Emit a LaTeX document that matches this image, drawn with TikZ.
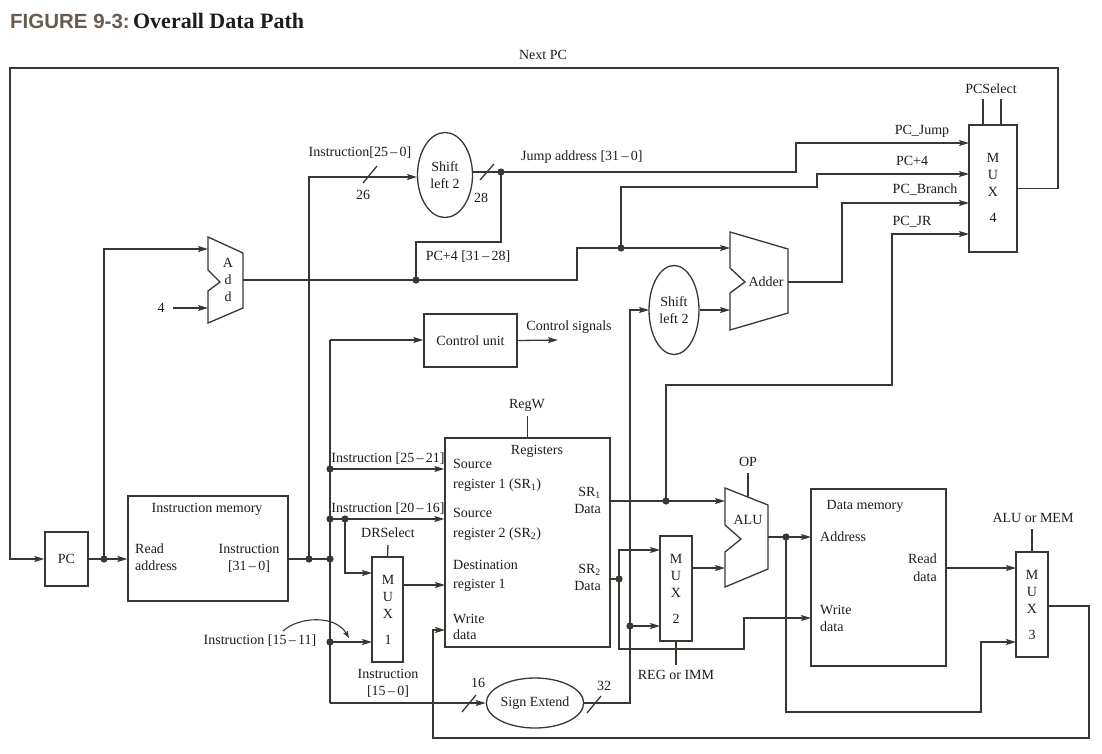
\documentclass[tikz,border=0pt]{standalone}
\usepackage{fontspec}
\setmainfont{Liberation Serif}
\newfontfamily\figsans{Liberation Sans}
\usetikzlibrary{arrows.meta,shapes.geometric}
\definecolor{ln}{RGB}{58,54,50}
\definecolor{tx}{RGB}{30,28,30}
\definecolor{figc}{RGB}{105,92,78}
\newcommand\lbfont{\fontsize{14}{17}\selectfont}
\begin{document}
\begin{tikzpicture}[x=1pt,y=-1pt,
  wire/.style={draw=ln,line width=1.3pt},
  arr/.style={wire,-{Stealth[length=10pt,width=6pt,inset=2pt]}},
  arrsm/.style={wire,line width=1.1pt,-{Stealth[length=7pt,width=5pt,inset=1.5pt]}},
  box/.style={draw=ln,line width=1.3pt,rectangle,inner sep=0pt,text=tx,font=\lbfont},
  oval/.style={draw=ln,line width=1.3pt,ellipse,inner sep=0pt,text=tx,font=\lbfont,align=center},
  lbl/.style={text=tx,font=\lbfont,inner sep=0pt},
  muxtxt/.style={lbl,align=center},
  blk/.style={draw=ln,line width=1.3pt,line join=miter},
]
\fill[white] (0,0) rectangle (1102,753);
\useasboundingbox (0,0) rectangle (1102,753);

% title
\node[anchor=base west,inner sep=0pt] (title) at (10,28)
  {{\figsans\bfseries\fontsize{20.5}{22}\selectfont\color{figc}FIGURE 9-3:} {\bfseries\fontsize{22}{24}\selectfont\color{tx}Overall Data Path}};

% ---------- boxes ----------
\node[box,minimum width=43,minimum height=54] (pc) at (66.5,559) {PC};
\node[box,minimum width=160,minimum height=105] (imem) at (208,548.5) {};
\node[box,minimum width=93,minimum height=53] (cu) at (470.5,340.5) {Control unit};
\node[box,minimum width=165,minimum height=209] (reg) at (527.5,542.5) {};
\node[box,minimum width=31,minimum height=105] (mux1) at (387.5,609.5) {};
\node[box,minimum width=32,minimum height=105] (mux2) at (676,588.5) {};
\node[box,minimum width=32,minimum height=105] (mux3) at (1032,604.5) {};
\node[box,minimum width=48,minimum height=127] (mux4) at (993,188.5) {};
\node[box,minimum width=135,minimum height=177] (dmem) at (878.5,577.5) {};
\node[oval,minimum width=55,minimum height=85] (shift1) at (445,175) {Shift\\left 2};
\node[oval,minimum width=50,minimum height=89] (shift2) at (674,310) {Shift\\left 2};
\node[oval,minimum width=84,minimum height=50] (se) at (535,703) {Sign Extend};

% mux texts
\node[muxtxt] (m1t) at (388,610) {M\\U\\X\\[9pt]1};
\node[muxtxt] (m2t) at (676,589) {M\\U\\X\\[9pt]2};
\node[muxtxt] (m3t) at (1032,605) {M\\U\\X\\[9pt]3};
\node[muxtxt] (m4t) at (993,188) {M\\U\\X\\[9pt]4};

% ALU-type shapes
\draw[blk] (208,237) -- (243,253) -- (243,308) -- (208,323) -- (208,291) -- (220,282) -- (208,270) -- cycle;
\node[muxtxt] (addt) at (228,280) {A\\d\\d};
\draw[blk] (730,232) -- (788,249) -- (788,313) -- (730,330) -- (730,293) -- (745,282) -- (730,268) -- cycle;
\node[lbl] (addert) at (766,282) {Adder};
\draw[blk] (725,488) -- (768,505) -- (768,569) -- (725,587) -- (725,552) -- (741,539) -- (725,525) -- cycle;
\node[lbl] (alut) at (748,520) {ALU};

% ---------- coordinates ----------
\coordinate (pcdot) at (104,559);
\coordinate (idotA) at (309,559);
\coordinate (idotB) at (330,559);
\coordinate (cuin) at (330,340);
\coordinate (d2521) at (330,469);
\coordinate (d2016) at (330,519);
\coordinate (d2016b) at (345,519);
\coordinate (d1511) at (330,642);
\coordinate (sebot) at (330,703);
\coordinate (adddot) at (416,280);
\coordinate (jdot) at (501,172);
\coordinate (p4dot) at (621,248);
\coordinate (sr1dot) at (666,501);
\coordinate (sr2dot) at (619,579);
\coordinate (sedot) at (630,626);
\coordinate (aludot) at (786,537);

\coordinate (addA) at (208,249);
\coordinate (addB) at (208,308);
\coordinate (addO) at (243,280);
\coordinate (adderA) at (730,248);
\coordinate (adderB) at (730,310);
\coordinate (adderO) at (788,282);
\coordinate (aluA) at (725,501);
\coordinate (aluB) at (725,568);
\coordinate (aluO) at (768,537);
\coordinate (aluOP) at (748,497);
\coordinate (s1in) at (417,177);
\coordinate (s2in) at (649,310);
\coordinate (m4a) at (969,143);
\coordinate (m4b) at (969,174);
\coordinate (m4c) at (969,203);
\coordinate (m4d) at (969,234);
\coordinate (m1a) at (372,573);
\coordinate (m1b) at (372,642);
\coordinate (m1o) at (403,585);
\coordinate (m2a) at (660,550);
\coordinate (m2b) at (660,626);
\coordinate (m2o) at (692,568);
\coordinate (m3a) at (1016,568);
\coordinate (m3b) at (1016,642);
\coordinate (m3o) at (1048,606);
\coordinate (regdr) at (445,585);
\coordinate (regwd) at (445,630);
\coordinate (sr1o) at (610,501);
\coordinate (sr2o) at (610,579);
\coordinate (dmA) at (811,537);
\coordinate (dmW) at (811,618);
\coordinate (dmR) at (946,568);
\coordinate (cuout) at (558,340);
\coordinate (fourend) at (173,308);
\coordinate (cvs) at (283,631);
\coordinate (cve) at (349,638);

% ---------- wires ----------
\draw[arr] (mux4.east) -| (1058,68) -| (10,559) -- (pc.west);
\draw[wire] (pc.east) -- (pcdot);
\draw[arr] (pcdot) -- (imem.west |- pcdot);
\draw[arr] (pcdot) |- (addA);
\draw[arr] (fourend) -- (addB);
\draw[arr] (addO) -- (577,280) -- (577,248) -- (adderA);
\draw[wire] (adddot) -- (416,242) -- (501,242) -- (jdot);
\draw[arr] (idotA) |- (s1in);
\draw[arr] (shift1.east |- jdot) -- (jdot) -- (796,172) -- (796,143) -- (m4a);
\draw[arr] (p4dot) -- (621,187) -- (817,187) -- (817,174) -- (m4b);
\draw[arr] (adderO) -- (842,282) -- (842,203) -- (m4c);
\draw[arr] (sr1dot) -- (666,385) -- (892,385) -- (892,234) -- (m4d);
\draw[wire] (983,125) -- (983,99);
\draw[wire] (1001,125) -- (1001,99);

\draw[wire] (imem.east |- idotA) -- (idotB);
\draw[wire] (cuin) -- (sebot);
\draw[arr] (cuin) -- (cu.west |- cuin);
\draw[arr] (cu.east) -- (cuout);
\draw[arr] (sebot) -- (se.west);
\draw[arr] (d2521) -- (reg.west |- d2521);
\draw[arr] (d2016) -- (reg.west |- d2016);
\draw[arr] (d2016b) |- (m1a);
\draw[arr] (m1o) -- (regdr);
\draw[arr] (d1511) -- (m1b);
\draw[arrsm] (cvs) .. controls (298,617) and (335,614) .. (cve);
\draw[wire] (mux1.north) -- (388,545);
\draw[wire] (reg.north) -- (527.5,416);

\draw[arr] (se.east) -| (sedot) |- (s2in);
\draw[arr] (sedot) -- (m2b);
\draw[arr] (shift2.east) -- (adderB);
\draw[arr] (sr1o) -- (aluA);
\draw[wire] (sr2o) -- (sr2dot);
\draw[arr] (sr2dot) |- (m2a);
\draw[arr] (sr2dot) -- (619,649) -- (744,649) -- (744,618) -- (dmW);
\draw[arr] (m2o) -- (aluB);
\draw[wire] (mux2.south) -- (676,665);
\draw[wire] (aluOP) -- (748,473);
\draw[arr] (aluO) -- (dmA);
\draw[arr] (aludot) -- (786,712) -- (981,712) -- (981,642) -- (m3b);
\draw[arr] (dmR) -- (m3a);
\draw[wire] (mux3.north) -- (1032,529);
\draw[arr] (m3o) -- (1089,606) -- (1089,738) -- (433,738) -- (433,630) -- (regwd);

% bus slashes
\draw[wire] (363,183) -- (377,166);
\draw[wire] (480,180) -- (494,164);
\draw[wire] (462,712) -- (476,695);
\draw[wire] (587,713) -- (601,696);

% dots
\foreach \p in {pcdot,idotA,idotB,d2521,d2016,d2016b,d1511,adddot,jdot,p4dot,sr1dot,sr2dot,sedot,aludot}
  \fill[ln] (\p) circle (3.6);

% ---------- labels ----------
\node[lbl] (lnextpc) at (543,55) {Next PC};
\node[lbl] (lpcsel) at (991,89) {PCSelect};
\node[lbl] (lpcj) at (922,131) {PC\_Jump};
\node[lbl] (lpc4) at (912,161) {PC+4};
\node[lbl] (lpcb) at (925,190) {PC\_Branch};
\node[lbl] (lpcjr) at (912,222) {PC\_JR};
\node[lbl] (li250) at (360,153) {Instruction[25\,–\,0]};
\node[lbl] (l26) at (363,195) {26};
\node[lbl] (l28) at (481,198) {28};
\node[lbl,anchor=west] (ljump) at (521,157) {Jump address [31\,–\,0]};
\node[lbl] (lpc428) at (468,257) {PC+4 [31\,–\,28]};
\node[lbl] (lfour) at (161,308) {4};
\node[lbl] (lcs) at (569,327) {Control signals};
\node[lbl] (lregw) at (527,405) {RegW};
\node[lbl] (lregs) at (537,451) {Registers};
\node[lbl] (li2521) at (388,459) {Instruction [25\,–\,21]};
\node[lbl] (li2016) at (388,509) {Instruction [20\,–\,16]};
\node[lbl] (ldrs) at (388,533) {DRSelect};
\node[lbl,anchor=west] (lsr1a) at (453,464) {Source};
\node[lbl,anchor=west] (lsr1b) at (453,485) {register 1 (SR\textsubscript{1})};
\node[lbl,anchor=west] (lsr2a) at (453,513) {Source};
\node[lbl,anchor=west] (lsr2b) at (453,534) {register 2 (SR\textsubscript{2})};
\node[lbl,anchor=west] (ldra) at (453,565) {Destination};
\node[lbl,anchor=west] (ldrb) at (453,585) {register 1};
\node[lbl,anchor=west] (lwda) at (453,619) {Write};
\node[lbl,anchor=west] (lwdb) at (453,635) {data};
\node[lbl,anchor=east] (lsr1da) at (601,493) {SR\textsubscript{1}};
\node[lbl,anchor=east] (lsr1db) at (601,509) {Data};
\node[lbl,anchor=east] (lsr2da) at (601,570) {SR\textsubscript{2}};
\node[lbl,anchor=east] (lsr2db) at (601,586) {Data};
\node[lbl] (li1511) at (260,641) {Instruction [15\,–\,11]};
\node[lbl] (li150a) at (388,674) {Instruction};
\node[lbl] (li150b) at (388,692) {[15\,–\,0]};
\node[lbl] (l16) at (478,683) {16};
\node[lbl] (l32) at (604,686) {32};
\node[lbl] (lop) at (748,462) {OP};
\node[lbl] (lregimm) at (676,675) {REG or IMM};
\node[lbl] (ldm) at (865,506) {Data memory};
\node[lbl,anchor=west] (ldmaddr) at (820,537) {Address};
\node[lbl,anchor=east] (ldmrda) at (937,559) {Read};
\node[lbl,anchor=east] (ldmrdb) at (937,577) {data};
\node[lbl,anchor=west] (ldmwda) at (820,610) {Write};
\node[lbl,anchor=west] (ldmwdb) at (820,627) {data};
\node[lbl] (laluormem) at (1033,518) {ALU or MEM};
\node[lbl] (lim) at (207,509) {Instruction memory};
\node[lbl,anchor=west] (limra) at (135,549) {Read};
\node[lbl,anchor=west] (limrb) at (135,566) {address};
\node[lbl] (limia) at (249,549) {Instruction};
\node[lbl] (limib) at (249,567) {[31\,–\,0]};
\end{tikzpicture}
\end{document}
